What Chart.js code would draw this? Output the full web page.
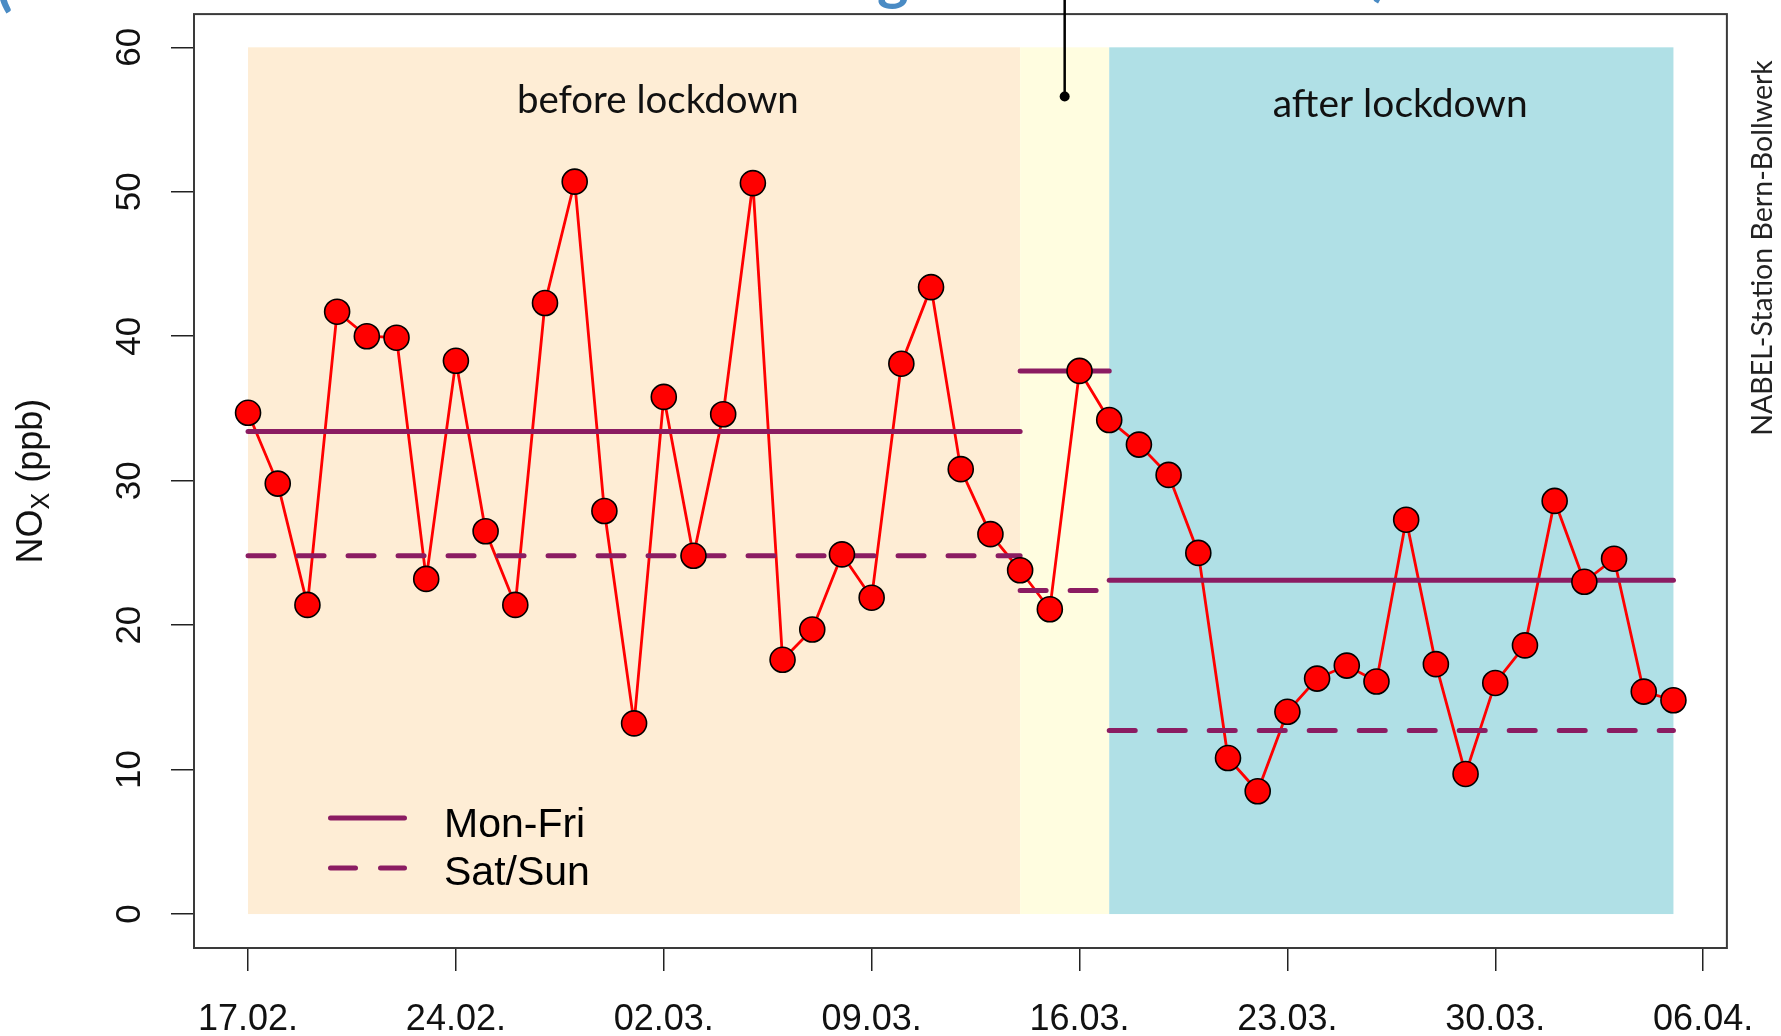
<!DOCTYPE html>
<html lang="en">
  <head>
    <meta charset="UTF-8" />
    <meta name="viewport" content="width=device-width, initial-scale=1.0" />
    <title>NOx Bern-Bollwerk</title>
    <script src="https://cdn.jsdelivr.net/npm/chart.js"></script>
    <style>
      body { margin: 0; background: #fff; }
      canvas { display: block; }
    </style>
  </head>
  <body>
    <canvas id="myChart" width="1781" height="1036"></canvas>
    <script>
      // daily NOx means (ppb), one value per day from 17.02.
      const noxDaily = [
        34.7, 29.8, 21.4, 41.7, 40.0, 39.9, 23.2, 38.3, 26.5, 21.4,
        42.3, 50.7, 27.9, 13.2, 35.8, 24.8, 34.6, 50.6, 17.6, 19.7,
        24.9, 21.9, 38.1, 43.4, 30.8, 26.3, 23.8, 21.1, 37.6, 34.2,
        32.5, 30.4, 25.0, 10.8, 8.5, 14.0, 16.3, 17.2, 16.1, 27.3,
        17.3, 9.7, 16.0, 18.6, 28.6, 23.0, 24.6, 15.4, 14.8,
      ];

      const xTickDays = [0, 7, 14, 21, 28, 35, 42, 49];
      const xTickLabels = ["17.02.", "24.02.", "02.03.", "09.03.", "16.03.", "23.03.", "30.03.", "06.04."];
      const yTicks = [0, 10, 20, 30, 40, 50, 60];

      // periods: before lockdown, transition, after lockdown
      const periodStart = [0, 26, 29];
      const periodEnd = [26, 29, 48];
      const meanMonFri = [33.4, 37.6, 23.1];
      const meanSatSun = [24.8, 22.4, 12.7];

      const purple = "#8B1C62";
      const bgColors = ["#FEEDD5", "#FFFDE0", "#B0E0E6"];

      const datasets = [];
      datasets.push({
        data: noxDaily.map((v, i) => ({ x: i, y: v })),
        borderColor: "#ff0000",
        borderWidth: 2.8,
        pointRadius: 0,
        order: 3,
      });
      periodStart.forEach((s, i) => {
        datasets.push({
          data: [{ x: s, y: meanMonFri[i] }, { x: periodEnd[i], y: meanMonFri[i] }],
          borderColor: purple,
          borderWidth: 5,
          borderCapStyle: "round",
          pointRadius: 0,
          order: 2,
        });
        datasets.push({
          data: [{ x: s, y: meanSatSun[i] }, { x: periodEnd[i], y: meanSatSun[i] }],
          borderColor: purple,
          borderWidth: 5,
          borderCapStyle: "round",
          borderDash: [26, 24],
          pointRadius: 0,
          order: 2,
        });
      });
      datasets.push({
        data: noxDaily.map((v, i) => ({ x: i, y: v })),
        showLine: false,
        pointRadius: 12.5,
        pointBackgroundColor: "#ff0000",
        pointBorderColor: "#000",
        pointBorderWidth: 1.6,
        order: 1,
      });

      const fitSize = (ctx, text, family, width, weight = "") => {
        ctx.font = weight + " 100px " + family;
        return (100 * width) / ctx.measureText(text).width;
      };

      const decor = {
        id: "decor",
        beforeDatasetsDraw(chart) {
          const { ctx, scales } = chart;
          const x = scales.x, y = scales.y;
          ctx.save();
          periodStart.forEach((s, i) => {
            const x0 = x.getPixelForValue(s);
            const x1 = x.getPixelForValue(periodEnd[i]);
            const y0 = y.getPixelForValue(60);
            const y1 = y.getPixelForValue(0);
            ctx.fillStyle = bgColors[i];
            ctx.fillRect(x0, y0, x1 - x0, y1 - y0);
          });
          // period labels
          ctx.fillStyle = "#111";
          ctx.textAlign = "center";
          ctx.textBaseline = "alphabetic";
          let fs = fitSize(ctx, "before lockdown", "Lato", 282);
          ctx.font = fs + "px Lato";
          ctx.fillText("before lockdown", x.getPixelForValue(13.8), 113);
          fs = fitSize(ctx, "after lockdown", "Lato", 255);
          ctx.font = fs + "px Lato";
          ctx.fillText("after lockdown", x.getPixelForValue(38.8), 117);
          ctx.restore();
        },
        afterDraw(chart) {
          const { ctx, chartArea: a, scales } = chart;
          const x = scales.x, y = scales.y;
          ctx.save();

          // frame
          ctx.strokeStyle = "#3a3a3a";
          ctx.lineWidth = 2;
          ctx.strokeRect(a.left, a.top, a.right - a.left, a.bottom - a.top);

          // y tick labels, rotated like R
          ctx.fillStyle = "#111";
          ctx.font = "35px 'Liberation Sans'";
          ctx.textAlign = "center";
          ctx.textBaseline = "alphabetic";
          yTicks.forEach((v) => {
            ctx.save();
            ctx.translate(140, y.getPixelForValue(v));
            ctx.rotate(-Math.PI / 2);
            ctx.fillText(String(v), 0, 0);
            ctx.restore();
          });

          // y axis title NOx (ppb)
          ctx.save();
          ctx.translate(42, (a.top + a.bottom) / 2);
          ctx.rotate(-Math.PI / 2);
          ctx.textAlign = "left";
          const big = "36px 'Liberation Sans'";
          const small = "25px 'Liberation Sans'";
          ctx.font = big;
          const w1 = ctx.measureText("NO").width;
          const w3 = ctx.measureText(" (ppb)").width;
          ctx.font = small;
          const w2 = ctx.measureText("X").width;
          let tx = -(w1 + w2 + w3) / 2;
          ctx.font = big;
          ctx.fillText("NO", tx, 0);
          tx += w1;
          ctx.font = small;
          ctx.fillText("X", tx, 7);
          tx += w2;
          ctx.font = big;
          ctx.fillText(" (ppb)", tx, 0);
          ctx.restore();

          // station label on the right
          ctx.save();
          ctx.translate(1763, 248);
          ctx.rotate(-Math.PI / 2);
          ctx.textAlign = "center";
          ctx.textBaseline = "middle";
          ctx.fillStyle = "#222";
          const rs = fitSize(ctx, "NABEL-Station Bern-Bollwerk", "Lato", 376);
          ctx.font = rs + "px Lato";
          ctx.fillText("NABEL-Station Bern-Bollwerk", 0, 0);
          ctx.restore();

          // legend
          ctx.strokeStyle = purple;
          ctx.lineWidth = 5;
          ctx.lineCap = "round";
          ctx.beginPath();
          ctx.moveTo(330.5, 818);
          ctx.lineTo(404.5, 818);
          ctx.moveTo(330.5, 868);
          ctx.lineTo(355.5, 868);
          ctx.moveTo(380.5, 868);
          ctx.lineTo(404.5, 868);
          ctx.stroke();
          ctx.fillStyle = "#000";
          ctx.font = "41px 'Liberation Sans'";
          ctx.textAlign = "left";
          ctx.fillText("Mon-Fri", 444, 837);
          ctx.fillText("Sat/Sun", 444, 885);

          // callout line from the (cut off) title
          const cx = x.getPixelForValue(27.5);
          const cy = y.getPixelForValue(56.6);
          ctx.strokeStyle = "#000";
          ctx.lineWidth = 2.5;
          ctx.lineCap = "butt";
          ctx.beginPath();
          ctx.moveTo(cx, 0);
          ctx.lineTo(cx, cy);
          ctx.stroke();
          ctx.fillStyle = "#000";
          ctx.beginPath();
          ctx.arc(cx, cy, 5, 0, Math.PI * 2);
          ctx.fill();

          // remains of the title above the picture
          ctx.fillStyle = "#4A8BC4";
          ctx.font = "bold 60px Lato";
          ctx.textAlign = "left";
          ctx.fillText("(", -4, 4);
          ctx.fillText("g", 877, -2);
          ctx.fillText(")", 1372, -6);
          ctx.restore();
        },
      };

      const ctx = document.getElementById("myChart");
      const myChart = new Chart(ctx, {
        type: "line",
        data: { datasets: datasets },
        options: {
          responsive: false,
          devicePixelRatio: 1,
          animation: false,
          layout: { padding: { top: 10, right: 53, left: 0, bottom: 0 } },
          plugins: { legend: { display: false }, tooltip: { enabled: false } },
          scales: {
            x: {
              type: "linear",
              min: -1.82,
              max: 49.8,
              afterBuildTicks: (axis) => {
                axis.ticks = xTickDays.map((v) => ({ value: v }));
              },
              afterFit: (axis) => {
                axis.height = 88;
              },
              grid: { drawOnChartArea: false, drawTicks: true, tickLength: 23, color: "#222", lineWidth: 1.5 },
              border: { display: false },
              ticks: {
                callback: (value, index) => xTickLabels[index],
                font: { family: "Liberation Sans", size: 36 },
                color: "#111",
                padding: 27,
                maxRotation: 0,
                autoSkip: false,
              },
            },
            y: {
              type: "linear",
              min: -2.35,
              max: 62.3,
              afterBuildTicks: (axis) => {
                axis.ticks = yTicks.map((v) => ({ value: v }));
              },
              afterFit: (axis) => {
                axis.width = 194;
              },
              grid: { drawOnChartArea: false, drawTicks: true, tickLength: 23, color: "#222", lineWidth: 1.5 },
              border: { display: false },
              ticks: { display: false },
            },
          },
        },
        plugins: [decor],
      });
    </script>
  </body>
</html>
